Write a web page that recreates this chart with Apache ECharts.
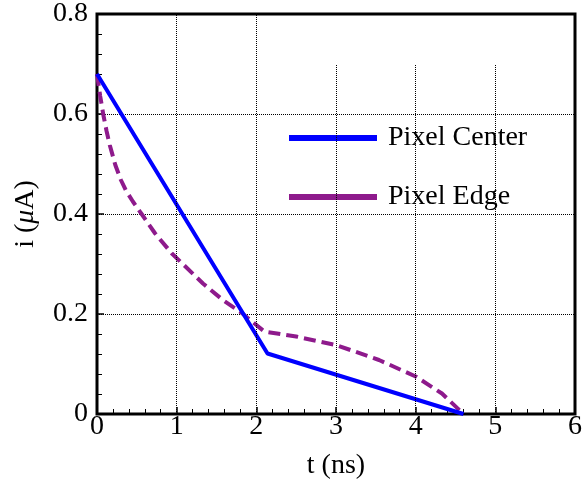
<!DOCTYPE html>
<html>
<head>
<meta charset="utf-8">
<script src="https://cdn.jsdelivr.net/npm/echarts@6/dist/echarts.min.js"></script>
<style>
  html, body { margin: 0; padding: 0; background: #fff; }
  #chart { width: 585px; height: 485px; }
</style>
</head>
<body>
<div id="chart"></div>
<script>
// Pixel Center current (straight segments)
const centerT = [0, 2.14, 4.6];
const centerI = [0.68, 0.121, 0.0];

// Pixel Edge current (dashed curve)
const edgeT = [0, 0.04, 0.08, 0.12, 0.16, 0.23, 0.3, 0.36, 0.45, 0.56, 0.73, 0.94, 1.07, 1.33, 1.58, 1.81, 2.1, 2.5, 2.79, 3.0, 3.54, 4.0, 4.33, 4.6];
const edgeI = [0.68, 0.636, 0.598, 0.566, 0.538, 0.498, 0.468, 0.448, 0.425, 0.40, 0.361, 0.321, 0.301, 0.261, 0.228, 0.203, 0.165, 0.155, 0.145, 0.138, 0.108, 0.075, 0.041, 0.0];

// vertical dotted grid lines and how high they reach
const gridX = [1, 2, 3, 4, 5];
const gridTop = [0.8, 0.8, 0.7, 0.7, 0.7];

const seriesNames = ["Pixel Center", "Pixel Edge"];
const seriesColors = ["#0000ff", "#8e1a8c"];

const font = "Liberation Serif";
const fs = 28;

function pairs(xs, ys) {
  return xs.map((x, i) => [x, ys[i]]);
}

const chart = echarts.init(document.getElementById("chart"), null, { renderer: "canvas" });

const option = {
  animation: false,
  backgroundColor: "#fff",
  grid: {
    left: 97, right: 8, top: 14, bottom: 71,
    show: true, borderColor: "#000", borderWidth: 3, backgroundColor: "transparent"
  },
  legend: {
    orient: "vertical",
    left: 284, top: 119,
    itemWidth: 88, itemHeight: 6, itemGap: 31,
    icon: "rect",
    data: seriesNames,
    textStyle: { fontFamily: font, fontSize: fs, color: "#000", padding: [0, 0, 0, 6] }
  },
  xAxis: {
    type: "value", min: 0, max: 6, interval: 1,
    name: "t (ns)", nameLocation: "middle", nameGap: 38,
    nameTextStyle: { fontFamily: font, fontSize: fs, color: "#000" },
    axisLine: { show: false },
    axisTick: { inside: true, length: 7, lineStyle: { color: "#000", width: 1.5 } },
    minorTick: { show: true, splitNumber: 5, length: 5, lineStyle: { color: "#000", width: 1 } },
    axisLabel: { fontFamily: font, fontSize: fs, color: "#000", margin: -1 },
    splitLine: { show: false }
  },
  yAxis: {
    type: "value", min: 0, max: 0.8, interval: 0.2,
    name: "{a|i (}{b|μ}{a|A)}", nameLocation: "middle", nameGap: 57, nameRotate: 90,
    nameTextStyle: {
      rich: {
        a: { fontFamily: font, fontSize: fs, color: "#000" },
        b: { fontFamily: font, fontSize: fs, color: "#000", fontStyle: "italic" }
      }
    },
    axisLine: { show: false },
    axisTick: { inside: true, length: 7, lineStyle: { color: "#000", width: 1.5 } },
    minorTick: { show: true, splitNumber: 5, length: 5, lineStyle: { color: "#000", width: 1 } },
    axisLabel: { fontFamily: font, fontSize: fs, color: "#000", margin: 9 },
    splitLine: { show: true, lineStyle: { color: "#000", type: "dotted", width: 1 } }
  },
  series: [
    {
      name: seriesNames[0],
      type: "line",
      data: pairs(centerT, centerI),
      symbol: "none",
      z: 4,
      itemStyle: { color: seriesColors[0] },
      lineStyle: { color: seriesColors[0], width: 4 },
      markLine: {
        silent: true,
        symbol: ["none", "none"],
        label: { show: false },
        lineStyle: { color: "#000", type: "dotted", width: 1 },
        data: gridX.map((x, i) => [{ coord: [x, 0] }, { coord: [x, gridTop[i]] }])
      }
    },
    {
      name: seriesNames[1],
      type: "line",
      data: pairs(edgeT, edgeI),
      symbol: "none",
      z: 3,
      itemStyle: { color: seriesColors[1] },
      lineStyle: { color: seriesColors[1], width: 4, type: [12, 6] }
    }
  ]
};

chart.setOption(option);
</script>
</body>
</html>
